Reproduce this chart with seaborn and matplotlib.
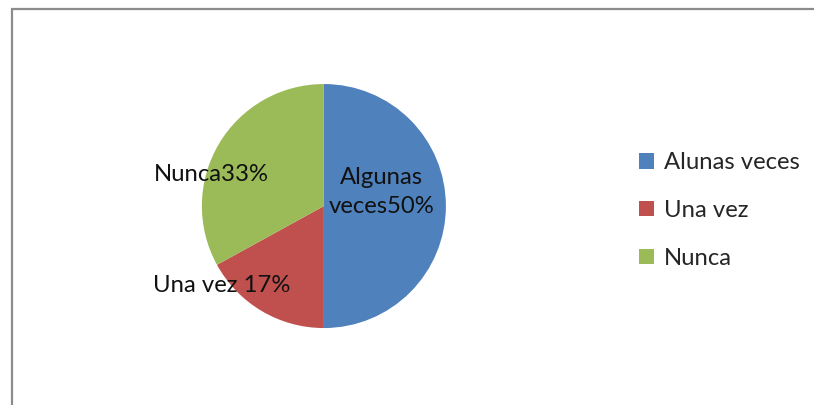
import matplotlib
matplotlib.use("Agg")
import matplotlib.pyplot as plt
from matplotlib.patches import Patch, Rectangle
import seaborn as sns

# Data
categories = ["Algunas veces", "Una vez", "Nunca"]
legend_labels = ["Alunas veces", "Una vez", "Nunca"]
shares = [50, 17, 33]
pie_labels = ["Algunas\nveces50%", "Una vez 17%", "Nunca33%"]
colors = ["#4F81BD", "#C0504D", "#9BBB59"]

sns.set_theme(style="white")
plt.rcParams["font.family"] = ["Lato", "DejaVu Sans"]

fig = plt.figure(figsize=(8.14, 4.05), dpi=100)
fig.patch.set_facecolor("white")

# chart frame (only left and top edges visible in the crop)
fig.add_artist(Rectangle((11.5 / 814, -0.1), 1.2, 1.1 - 8.5 / 405,
                         transform=fig.transFigure, fill=False,
                         edgecolor="#8c8c8c", linewidth=1.6))

ax = fig.add_axes([0.248, 0.190, 0.2998, 0.6025])
wedges, _ = ax.pie(shares, colors=colors, startangle=90, counterclock=False,
                   wedgeprops=dict(linewidth=0))
ax.set_xlim(-1, 1)
ax.set_ylim(-1, 1)
ax.set_aspect("equal")

# data labels
label_pos = [(0.47, 0.115), (-0.84, -0.65), (-0.92, 0.26)]
for txt, (x, y) in zip(pie_labels, label_pos):
    ax.text(x, y, txt, ha="center", va="center", fontsize=17.2,
            color="#111111", linespacing=1.5)

handles = [Patch(facecolor=c, edgecolor="none") for c in colors]
fig.legend(handles, legend_labels, loc="center left",
           bbox_to_anchor=(0.759, 0.48), frameon=False, fontsize=17.2,
           handlelength=0.62, handleheight=0.62, handletextpad=0.4,
           labelspacing=1.12)

fig.savefig("out.png", dpi=100, facecolor="white")
